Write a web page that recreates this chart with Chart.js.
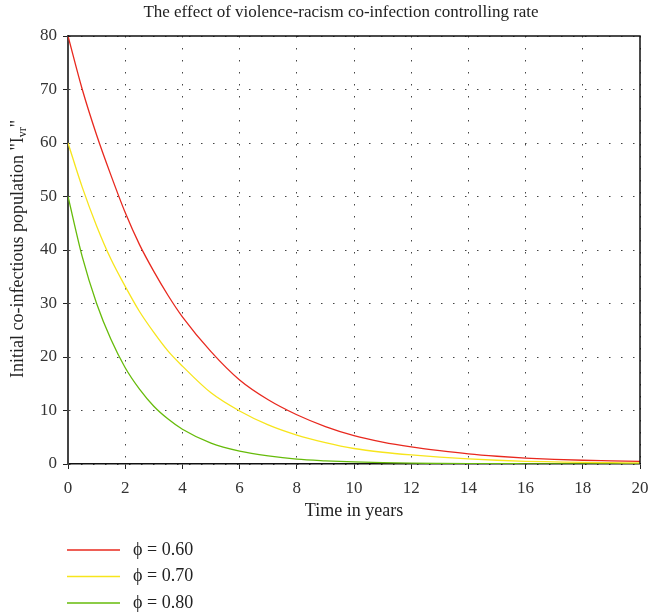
<!DOCTYPE html>
<html>
<head>
<meta charset="utf-8">
<script src="https://cdn.jsdelivr.net/npm/chart.js@4.4.0/dist/chart.umd.min.js"></script>
<style>
  html, body { margin: 0; padding: 0; background: #fff; }
  #wrap { width: 650px; height: 614px; }
</style>
</head>
<body>
<div id="wrap"><canvas id="c" width="650" height="614"></canvas></div>
<script>
// data
const years = [0, 0.5, 1, 1.5, 2, 2.5, 3, 3.5, 4, 5, 6, 7, 8, 9, 10, 11, 12, 13, 14, 15, 16, 17, 18, 19, 20];
const phi60 = [80, 70, 61.5, 54, 47, 41, 36, 31.5, 27.5, 21, 15.7, 12, 9.2, 7, 5.3, 4.1, 3.2, 2.5, 1.9, 1.45, 1.1, 0.85, 0.7, 0.6, 0.5];
const phi70 = [60, 51.7, 44.5, 38.3, 33.2, 28.5, 24.6, 21.1, 18.3, 13.3, 9.9, 7.3, 5.4, 4, 2.9, 2.2, 1.7, 1.3, 0.95, 0.7, 0.5, 0.4, 0.3, 0.25, 0.2];
const phi80 = [50, 38.7, 30, 23.3, 18, 14, 10.8, 8.4, 6.5, 3.9, 2.4, 1.5, 0.9, 0.6, 0.4, 0.25, 0.15, 0.1, 0.07, 0.05, 0.04, 0.03, 0.02, 0.02, 0.02];
const seriesLabels = ['ϕ = 0.60', 'ϕ = 0.70', 'ϕ = 0.80'];
const seriesColors = ['#e8281e', '#f7e51c', '#66bb0a'];

const serif = "'Liberation Serif', 'DejaVu Serif', serif";

const toPoints = arr => arr.map((v, i) => ({ x: years[i], y: v }));

// frame on top/right, titles with subscript, vertical legend
const decor = {
    id: 'decor',
    afterDraw(chart) {
        const ctx = chart.ctx;
        const a = chart.chartArea;
        ctx.save();
        ctx.strokeStyle = '#111';
        ctx.lineWidth = 1.5;
        ctx.beginPath();
        ctx.moveTo(a.left, a.top);
        ctx.lineTo(a.right, a.top);
        ctx.lineTo(a.right, a.bottom);
        ctx.stroke();

        ctx.fillStyle = '#222';
        ctx.textBaseline = 'middle';
        ctx.textAlign = 'center';
        ctx.font = '17px ' + serif;
        ctx.fillText('The effect of violence-racism co-infection controlling rate', 341, 13);
        ctx.font = '18px ' + serif;
        ctx.fillText('Time in years', 354, 511);

        // y title, rotated, with subscript
        ctx.translate(18, 249);
        ctx.rotate(-Math.PI / 2);
        const main = 'Initial co-infectious population "I';
        const sub = 'vr';
        const end = '"';
        ctx.font = '18px ' + serif;
        const w1 = ctx.measureText(main).width;
        const w3 = ctx.measureText(end).width;
        ctx.font = '12px ' + serif;
        const w2 = ctx.measureText(sub).width;
        let x = -(w1 + w2 + w3) / 2;
        ctx.textAlign = 'left';
        ctx.font = '18px ' + serif;
        ctx.fillText(main, x, 0);
        x += w1;
        ctx.font = '12px ' + serif;
        ctx.fillText(sub, x, 5);
        x += w2;
        ctx.font = '18px ' + serif;
        ctx.fillText(end, x, 0);
        ctx.restore();

        // legend
        ctx.save();
        chart.data.datasets.forEach((ds, i) => {
            const y = 550 + i * 26.5;
            ctx.strokeStyle = ds.borderColor;
            ctx.lineWidth = 1.5;
            ctx.beginPath();
            ctx.moveTo(67, y);
            ctx.lineTo(120, y);
            ctx.stroke();
            ctx.fillStyle = '#222';
            ctx.font = '18px ' + serif;
            ctx.textAlign = 'left';
            ctx.textBaseline = 'middle';
            ctx.fillText(ds.label, 133, y);
        });
        ctx.restore();
    }
};

new Chart(document.getElementById('c').getContext('2d'), {
    type: 'line',
    data: {
        datasets: [phi60, phi70, phi80].map((arr, i) => ({
            label: seriesLabels[i],
            data: toPoints(arr),
            borderColor: seriesColors[i],
            borderWidth: 1.3,
            pointRadius: 0,
            fill: false,
            cubicInterpolationMode: 'monotone'
        }))
    },
    options: {
        responsive: false,
        animation: false,
        layout: { padding: { top: 36, right: 0, left: 0, bottom: 0 } },
        plugins: {
            legend: { display: false },
            title: { display: false },
            tooltip: { enabled: false }
        },
        scales: {
            x: {
                type: 'linear',
                min: 0,
                max: 20,
                afterFit: s => { s.height = 150; s.paddingRight = 10; s.paddingLeft = 0; },
                ticks: {
                    stepSize: 2,
                    color: '#333',
                    font: { family: serif, size: 17 },
                    padding: 9,
                    maxRotation: 0
                },
                grid: {
                    color: '#444',
                    tickColor: '#222',
                    tickLength: 5,
                    tickBorderDash: []
                },
                border: { color: '#111', width: 1.5, dash: [1.5, 10.5] }
            },
            y: {
                min: 0,
                max: 80,
                afterFit: s => { s.width = 68; },
                ticks: {
                    stepSize: 10,
                    color: '#333',
                    font: { family: serif, size: 17 },
                    padding: 6
                },
                grid: {
                    color: '#444',
                    tickColor: '#222',
                    tickLength: 5,
                    tickBorderDash: []
                },
                border: { color: '#444', width: 2, dash: [1.5, 10.5] }
            }
        }
    },
    plugins: [decor]
});
</script>
</body>
</html>
